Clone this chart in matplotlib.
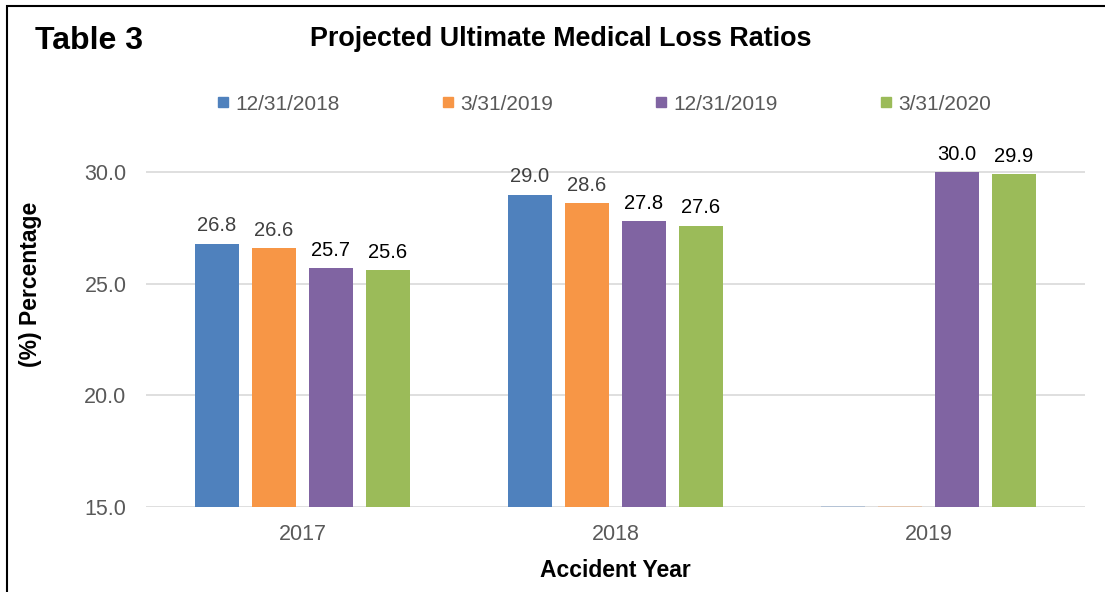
import matplotlib.pyplot as plt
import numpy as np
from matplotlib.patches import Rectangle
from matplotlib.lines import Line2D

plt.rcParams['font.family'] = ['Liberation Sans', 'DejaVu Sans']

years = ['2017', '2018', '2019']
series = ['12/31/2018', '3/31/2019', '12/31/2019', '3/31/2020']
values = {
    '12/31/2018': [26.8, 29.0, np.nan],
    '3/31/2019': [26.6, 28.6, np.nan],
    '12/31/2019': [25.7, 27.8, 30.0],
    '3/31/2020': [25.6, 27.6, 29.9],
}
colors = ['#4F81BD', '#F79646', '#8064A2', '#9BBB59']
label_colors = ['#404040', '#404040', '#000000', '#000000']

fig = plt.figure(figsize=(11.05, 5.92), dpi=100)
ax = fig.add_axes([146/1105, 0.1436, 939/1105, 0.622])

base = 15.0
x = np.arange(len(years))
pitch = 0.182
width = 0.14
for i, s in enumerate(series):
    xs = x + (i - 1.5) * pitch
    for xi, v in zip(xs, values[s]):
        if np.isnan(v):
            # missing value: Excel leaves a faint stub on the axis
            ax.bar(xi, 0, width, bottom=base, color=colors[i],
                   edgecolor=colors[i], alpha=0.35, linewidth=1.2, zorder=3)
            continue
        ax.bar(xi, v - base, width, bottom=base, color=colors[i], zorder=3)
        ax.annotate(f'{v:.1f}', (xi, v), xytext=(0, 6), textcoords='offset points',
                    ha='center', va='bottom', fontsize=14.5, color=label_colors[i])

ax.set_xlim(-0.5, 2.5)
ax.set_ylim(15, 31.5)
ax.set_yticks([15, 20, 25, 30])
ax.set_yticklabels(['15.0', '20.0', '25.0', '30.0'])
ax.set_xticks(x)
ax.set_xticklabels(years)
ax.tick_params(axis='both', length=0, labelsize=15.5, labelcolor='#595959')
ax.tick_params(axis='y', pad=14)
ax.tick_params(axis='x', pad=12)
ax.grid(axis='y', color='#D9D9D9', linewidth=1.2, zorder=0)
for sp in ax.spines.values():
    sp.set_visible(False)

ax.set_ylabel('(%) Percentage', fontsize=16.5, fontweight='bold')
ax.yaxis.set_label_coords(-0.1108, 0.604)
ax.set_xlabel('Accident Year', fontsize=16.5, fontweight='bold', labelpad=10)

fig.text(35/1105, 1 - 41/592, 'Table 3', fontsize=23, fontweight='bold', va='center')
fig.text(561/1105, 1 - 39/592, 'Projected Ultimate Medical Loss Ratios',
         fontsize=19.4, fontweight='bold', ha='center', va='center')

handles = [Line2D([], [], marker='s', linestyle='', markersize=7.6, color=c) for c in colors]
leg = fig.legend(handles, series, loc='center', bbox_to_anchor=(604.5/1105, 1 - 104/592),
                 ncol=4, frameon=False, fontsize=15, columnspacing=4.95,
                 handlelength=0.5, handletextpad=0.34)
for t in leg.get_texts():
    t.set_color('#595959')

fig.add_artist(Rectangle((7/1105, -0.1), 1.2, 1 - 6/592 + 0.1, transform=fig.transFigure,
                         fill=False, edgecolor='black', linewidth=1.5))

fig.savefig('out.png', dpi=100)
